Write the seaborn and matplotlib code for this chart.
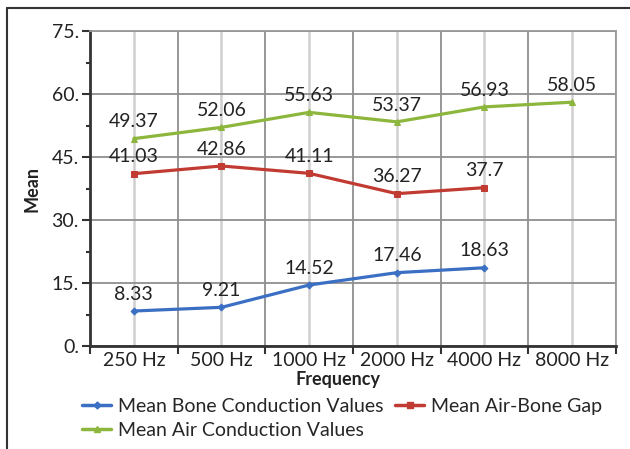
import seaborn as sns
import matplotlib.pyplot as plt
import matplotlib.ticker as mticker
from matplotlib.lines import Line2D
import pandas as pd
import numpy as np

# datos
freqs = ["250 Hz", "500 Hz", "1000 Hz", "2000 Hz", "4000 Hz", "8000 Hz"]
bone = [8.33, 9.21, 14.52, 17.46, 18.63, np.nan]
gap = [41.03, 42.86, 41.11, 36.27, 37.7, np.nan]
air = [49.37, 52.06, 55.63, 53.37, 56.93, 58.05]

sns.set_style("white")
plt.rcParams["font.family"] = ["Lato", "DejaVu Sans"]

fig = plt.figure(figsize=(6.3, 4.49), dpi=100)
ax = fig.add_axes([90/630, 1 - 346/449, 526/630, 315/449])

x = np.arange(len(freqs))
series = [
    ("Mean Bone Conduction Values", bone, "#3b6fc4", "D", 3.5),
    ("Mean Air Conduction Values", air, "#8cb63c", "^", 4),
    ("Mean Air-Bone Gap", gap, "#c23b33", "s", 4.5),
]

handles = []
for name, vals, col, mk, ms in series:
    df = pd.DataFrame({"x": x, "y": vals}).dropna()
    sns.lineplot(data=df, x="x", y="y", ax=ax, color=col, linewidth=2.3,
                 marker=mk, markersize=ms, markeredgecolor=col, legend=False)
    for xi, yi in zip(df["x"], df["y"]):
        ax.annotate(f"{yi:g}", (xi, yi), xytext=(0, 6), textcoords="offset points",
                    ha="center", va="bottom", fontsize=14, color="#222222")
    handles.append(Line2D([], [], color=col, linewidth=2.5, marker=mk, markersize=ms, label=name))

ax.set_xlim(-0.5, 5.5)
ax.set_ylim(0, 75)

# ticks y
ax.yaxis.set_major_locator(mticker.MultipleLocator(15))
ax.yaxis.set_minor_locator(mticker.MultipleLocator(7.5))
ax.yaxis.set_major_formatter(mticker.FuncFormatter(lambda v, p: f"{v:.0f}."))
ax.tick_params(axis="y", which="major", left=True, length=6, width=1.5, color="#333333",
               labelsize=14, pad=2, labelcolor="#222222")
ax.tick_params(axis="y", which="minor", left=True, length=3, width=1.5, color="#333333")

# ticks x: marcas en los bordes, etiquetas en el centro
ax.set_xticks(np.arange(-0.5, 6, 1))
ax.set_xticklabels([])
ax.set_xticks(x, minor=True)
ax.set_xticklabels(freqs, minor=True)
ax.tick_params(axis="x", which="major", bottom=True, length=6, width=1.5, color="#333333")
ax.tick_params(axis="x", which="minor", bottom=False, length=0, labelsize=14, pad=4,
               labelcolor="#222222")

ax.grid(True, axis="y", which="major", color="#8f8f8f", linewidth=1.3)
ax.grid(True, axis="x", which="major", color="#8f8f8f", linewidth=1.3)
ax.grid(True, axis="x", which="minor", color="#cfcfcf", linewidth=1.8)
ax.set_axisbelow(True)

for s in ["top", "right"]:
    ax.spines[s].set_color("#9a9a9a")
    ax.spines[s].set_linewidth(1.3)
for s in ["left", "bottom"]:
    ax.spines[s].set_color("#333333")
    ax.spines[s].set_linewidth(2)

ax.set_ylabel("Mean", fontsize=13, fontweight="bold", color="#222222")
ax.yaxis.set_label_coords(-0.095, 0.5)
ax.set_xlabel("Frequency", fontsize=13, fontweight="bold", color="#222222")
ax.xaxis.set_label_coords((338 - 90) / 526, -0.08)

fig.legend(handles=handles, loc="upper left", bbox_to_anchor=(82/630, 1 - 398/449),
           ncol=2, frameon=False, fontsize=14, handlelength=1.5, handletextpad=0.35,
           columnspacing=0.6, labelspacing=0.35, borderaxespad=0, borderpad=0)

# marco exterior
fig.add_artist(Line2D([7/630, 1], [1 - 8/449, 1 - 8/449], color="#333333", linewidth=1.5,
                      transform=fig.transFigure))
fig.add_artist(Line2D([7/630, 7/630], [0, 1 - 8/449], color="#333333", linewidth=1.5,
                      transform=fig.transFigure))

fig.savefig("out.png", dpi=100)
